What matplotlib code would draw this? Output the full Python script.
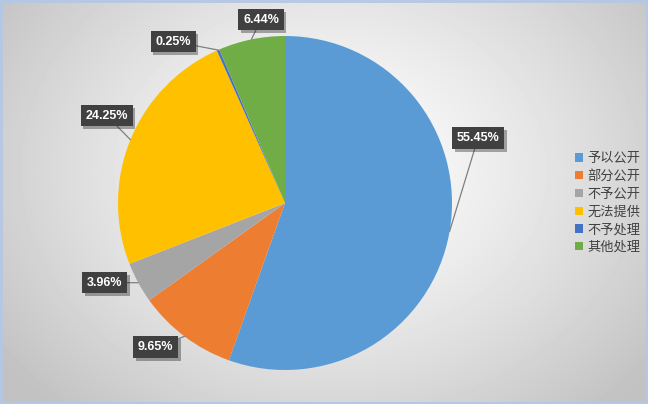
import numpy as np
import matplotlib.pyplot as plt
import matplotlib.patheffects as pe
from matplotlib.patches import Rectangle

plt.rcParams['font.family'] = ['Noto Sans CJK SC', 'DejaVu Sans']

# 数据
categorias = ['予以公开', '部分公开', '不予公开', '无法提供', '不予处理', '其他处理']
valores = [55.45, 9.65, 3.96, 24.25, 0.25, 6.44]
colores = ['#5B9BD5', '#ED7D31', '#A5A5A5', '#FFC000', '#4472C4', '#70AD47']

# 标签框中心位置（像素）
pos_etiquetas = [(478, 138), (155.5, 347), (104.5, 282.5), (106.5, 115.5), (173, 41.5), (261, 19.5)]

W, H = 648, 404
cx, cy, r = 285, 203, 167

fig = plt.figure(figsize=(W / 100, H / 100), dpi=100)

# 背景径向渐变
bg = fig.add_axes([0, 0, 1, 1])
yy, xx = np.mgrid[0:H, 0:W]
d = np.sqrt(((xx - 330) / 380.0) ** 2 + ((yy - 170) / 300.0) ** 2)
g = np.clip(1.0 - 0.22 * d ** 1.3, 0.76, 1.0)
bg.imshow(g, cmap='gray', vmin=0, vmax=1, extent=[0, W, H, 0], aspect='auto', interpolation='bilinear')
bg.add_patch(Rectangle((1, 1), W - 2, H - 2, fill=False, edgecolor='#B4C7E7', linewidth=2))
bg.set_xlim(0, W)
bg.set_ylim(H, 0)
bg.axis('off')

ax = fig.add_axes([(cx - r) / W, (H - cy - r) / H, 2 * r / W, 2 * r / H])
wedges, _ = ax.pie(valores, colors=colores, startangle=90, counterclock=False,
                   radius=1, wedgeprops=dict(linewidth=0))
ax.set_xlim(-1, 1)
ax.set_ylim(-1, 1)
ax.set_aspect('auto')
ax.axis('off')

for w, v, (px, py) in zip(wedges, valores, pos_etiquetas):
    ang = np.deg2rad((w.theta1 + w.theta2) / 2)
    xy = (np.cos(ang), np.sin(ang))
    xt = ((px - cx) / r, (cy - py) / r)
    t = ax.annotate(f'{v:.2f}%', xy=xy, xytext=xt, ha='center', va='center',
                    fontsize=9, fontweight='bold', color='white', family='Liberation Sans',
                    bbox=dict(boxstyle='square,pad=0.38', facecolor='#404040', edgecolor='none'),
                    arrowprops=dict(arrowstyle='-', color='#7F7F7F', lw=0.9, shrinkA=0, shrinkB=0),
                    annotation_clip=False)
    t.get_bbox_patch().set_path_effects([pe.SimplePatchShadow(offset=(2, -2), alpha=0.35), pe.Normal()])

leg = fig.legend(wedges, categorias, loc='center left', bbox_to_anchor=(568 / W, 1 - 203 / H),
                 frameon=False, fontsize=9.5, handlelength=0.6, handleheight=0.6,
                 handletextpad=0.35, labelspacing=0.36, borderpad=0)
for txt in leg.get_texts():
    txt.set_color('#404040')

fig.savefig('out.png', dpi=100)
